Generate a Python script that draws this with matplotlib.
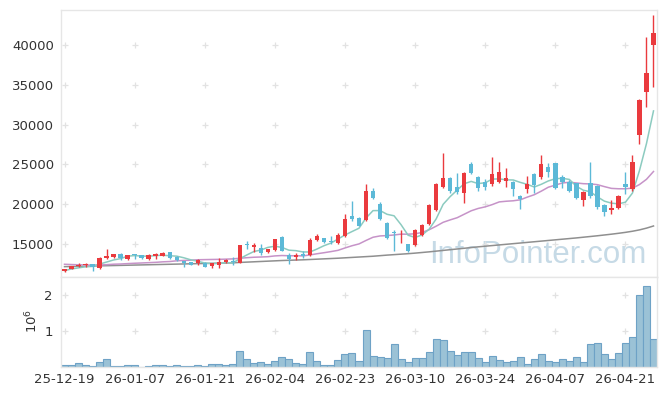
import matplotlib
matplotlib.use("Agg")
import matplotlib.pyplot as plt
import numpy as np
import pandas as pd
from matplotlib.ticker import FixedLocator, FuncFormatter

# ---------------- data ----------------
tick_pos = [0, 10, 20, 30, 40, 50, 60, 70, 80]
tick_labels = ['25-12-19', '26-01-07', '26-01-21', '26-02-04', '26-02-23',
               '26-03-10', '26-03-24', '26-04-07', '26-04-21']

open_p = [11550, 11900, 12250, 12350, 12450, 11950, 13200, 13400, 13750, 13150,
          13700, 13600, 13150, 13450, 13550, 14000, 13400, 12850, 12700, 12600,
          12650, 12250, 12400, 12700, 12900, 12650, 15000, 14600, 14550, 13950,
          14200, 15900, 13650, 13350, 13800, 13650, 15450, 15700, 15400, 15100,
          16050, 18500, 18250, 18000, 21650, 20000, 17600, 16550, 15950, 14950,
          14900, 16150, 17500, 19300, 22150, 23300, 22100, 21450, 25000, 23400,
          22800, 22550, 22850, 22950, 22750, 21050, 21900, 23800, 23400, 24650,
          25150, 23400, 22800, 22600, 20550, 22600, 22300, 19900, 19250, 19500,
          22550, 21900, 28700, 34150, 39950]
high_p = [11850, 12250, 12650, 12650, 12500, 13350, 14400, 13750, 13850, 13650,
          13750, 13650, 13700, 13900, 14000, 14050, 13450, 12900, 12750, 13050,
          12750, 12600, 13200, 13050, 13400, 14900, 15400, 15100, 14950, 14400,
          15650, 15950, 13900, 13900, 14100, 15700, 16200, 15800, 16000, 16400,
          18750, 20400, 18400, 22500, 22000, 20300, 17700, 16700, 16750, 15000,
          16900, 17550, 20000, 22700, 26400, 23400, 23900, 24000, 25300, 23600,
          23200, 25900, 25350, 24500, 22900, 21200, 23550, 23900, 26200, 25150,
          25200, 23700, 23000, 22700, 21600, 25350, 22400, 20000, 20500, 21200,
          24100, 26200, 33200, 40950, 43750]
low_p = [11500, 11850, 12050, 12100, 11650, 11900, 13150, 13300, 13000, 12950,
         13100, 13150, 13000, 13100, 13500, 13100, 12850, 12100, 12350, 12400,
         12050, 11950, 11950, 12600, 12400, 12600, 14350, 14050, 13600, 13850,
         14100, 14100, 12450, 13000, 13300, 13500, 15400, 15100, 15050, 14950,
         15900, 17900, 17200, 17900, 20600, 17950, 15600, 14100, 15100, 13950,
         14700, 16000, 17400, 19200, 22000, 21400, 21300, 20150, 23800, 21700,
         21800, 22300, 22600, 22200, 21050, 19350, 21350, 21350, 23200, 23450,
         21900, 22000, 21500, 20600, 19750, 20800, 19400, 18500, 18800, 19350,
         21300, 21700, 27550, 32250, 34700]
close_p = [11800, 12200, 12400, 12450, 12050, 13250, 13500, 13700, 13300, 13600,
           13600, 13200, 13600, 13700, 13850, 13250, 12950, 12600, 12400, 12950,
           12150, 12550, 12700, 12950, 12700, 14850, 14900, 14850, 13900, 14350,
           15600, 14150, 13100, 13600, 13550, 15550, 16000, 15200, 15250, 16100,
           18100, 18150, 17300, 21650, 20750, 18150, 15800, 16350, 16050, 14150,
           16750, 17400, 19900, 22500, 23350, 21600, 21500, 23900, 23950, 22000,
           22100, 23800, 24050, 23350, 21900, 20600, 22550, 22400, 25050, 24000,
           22000, 22800, 21700, 20750, 21500, 21050, 19600, 19000, 19500, 21050,
           22100, 25350, 33100, 36500, 41550]
# closes before the visible window (estimated from where the averages start)
prior_close = [12900, 13000, 12800, 12600, 12900, 12700, 12500, 12800, 12600, 12700,
               12500, 12800, 12900, 12600, 12450, 11150, 11700, 11800, 11800]
# long moving average (grey line)
ma_long = [12150, 12170, 12190, 12210, 12230, 12250, 12270, 12290, 12310, 12330,
           12350, 12370, 12390, 12410, 12430, 12450, 12470, 12490, 12510, 12530,
           12550, 12570, 12590, 12610, 12630, 12680, 12720, 12760, 12800, 12840,
           12880, 12920, 12950, 12980, 13010, 13050, 13090, 13130, 13170, 13210,
           13260, 13310, 13360, 13410, 13460, 13530, 13600, 13660, 13720, 13780,
           13850, 13930, 14010, 14100, 14190, 14280, 14370, 14460, 14550, 14640,
           14720, 14800, 14880, 14960, 15040, 15120, 15200, 15280, 15360, 15440,
           15520, 15600, 15680, 15760, 15850, 15940, 16030, 16130, 16230, 16340,
           16460, 16600, 16770, 16990, 17260]
volume = [55000, 55000, 100000, 50000, 25000, 140000, 210000, 20000, 20000, 50000,
          50000, 10000, 30000, 50000, 50000, 30000, 50000, 30000, 30000, 50000,
          30000, 80000, 80000, 50000, 80000, 440000, 210000, 100000, 130000, 80000,
          180000, 270000, 210000, 100000, 80000, 410000, 180000, 50000, 55000, 190000,
          350000, 380000, 170000, 1020000, 300000, 270000, 240000, 630000, 210000, 130000,
          240000, 240000, 410000, 770000, 740000, 440000, 320000, 410000, 410000, 240000,
          130000, 300000, 190000, 130000, 160000, 270000, 80000, 210000, 350000, 160000,
          130000, 210000, 160000, 270000, 130000, 630000, 660000, 350000, 210000, 380000,
          660000, 820000, 2000000, 2250000, 770000]

price_ticks = [15000, 20000, 25000, 30000, 35000, 40000]
vol_ticks = [1000000, 2000000]

# ---------------- derived ----------------
n = len(close_p)
x = np.arange(n)
o = np.array(open_p); h = np.array(high_p); l = np.array(low_p); c = np.array(close_p)
allc = pd.Series(prior_close + close_p, dtype=float)
ma5 = allc.rolling(5).mean().to_numpy()[len(prior_close):]
ma20 = allc.rolling(20).mean().to_numpy()[len(prior_close):]

RED = '#ea3a3e'
BLUE = '#5cb9d7'
up = c >= o
colors = np.where(up, RED, BLUE)

TXT = '#333333'
SPINE = '#e6e6e6'
CROSS = '#e2e2e2'
FS = 9.5

fig = plt.figure(figsize=(6.65, 3.96), dpi=100)
W, H = 665, 396
ax = fig.add_axes([61 / W, 1 - 277 / H, 596 / W, 267 / H])
axv = fig.add_axes([61 / W, 1 - 367 / H, 596 / W, 90 / H], sharex=ax)

# watermark
ax.text(0.80, 0.082, 'InfoPointer.com', transform=ax.transAxes, fontsize=22.5,
        family='Liberation Sans', color='#c6dae6', ha='center', va='center', zorder=0)

# grid crosses
for tp in tick_pos:
    ax.scatter([tp] * len(price_ticks), price_ticks, marker='+', s=22, color=CROSS,
               linewidths=0.9, zorder=1)
    axv.scatter([tp] * len(vol_ticks), vol_ticks, marker='+', s=22, color=CROSS,
                linewidths=0.9, zorder=1)

# moving averages
ax.plot(x, ma_long, color='#8f8f8f', lw=1.1, zorder=2)
ax.plot(x, ma20, color='#c693c8', lw=1.1, zorder=2)
ax.plot(x, ma5, color='#8ccbc0', lw=1.1, zorder=2)

# candles
ax.vlines(x, l, h, colors=colors, lw=1.0, zorder=3)
body_bottom = np.minimum(o, c)
body_h = np.maximum(np.abs(c - o), 60)
ax.bar(x, body_h, bottom=body_bottom, width=0.62, color=colors, linewidth=0, zorder=4)

ax.set_xlim(-0.5, n - 0.5)
ax.set_ylim(10850, 44400)
ax.yaxis.set_major_locator(FixedLocator(price_ticks))
ax.yaxis.set_major_formatter(FuncFormatter(lambda v, p: f'{int(v)}'))
ax.tick_params(axis='y', length=0, pad=5, labelsize=FS, labelcolor=TXT)
ax.tick_params(axis='x', length=0, labelbottom=False)

# volume
axv.bar(x, volume, width=1.0, color='#9bc2d6', edgecolor='#6ea2c6', linewidth=0.8, zorder=2)
axv.set_ylim(0, 2500000)
axv.yaxis.set_major_locator(FixedLocator(vol_ticks))
axv.yaxis.set_major_formatter(FuncFormatter(lambda v, p: f'{v / 1e6:g}'))
axv.xaxis.set_major_locator(FixedLocator(tick_pos))
axv.set_xticklabels(tick_labels)
axv.tick_params(axis='y', length=0, pad=6, labelsize=FS, labelcolor=TXT)
axv.tick_params(axis='x', length=0, pad=4, labelsize=FS, labelcolor=TXT)

fig.text(32 / W, 1 - 321 / H, r'$10^6$', rotation=90, ha='center', va='center',
         fontsize=FS, color=TXT)

for a in (ax, axv):
    for s in a.spines.values():
        s.set_color(SPINE)
        s.set_linewidth(1.0)

fig.savefig('out.png', dpi=100)
